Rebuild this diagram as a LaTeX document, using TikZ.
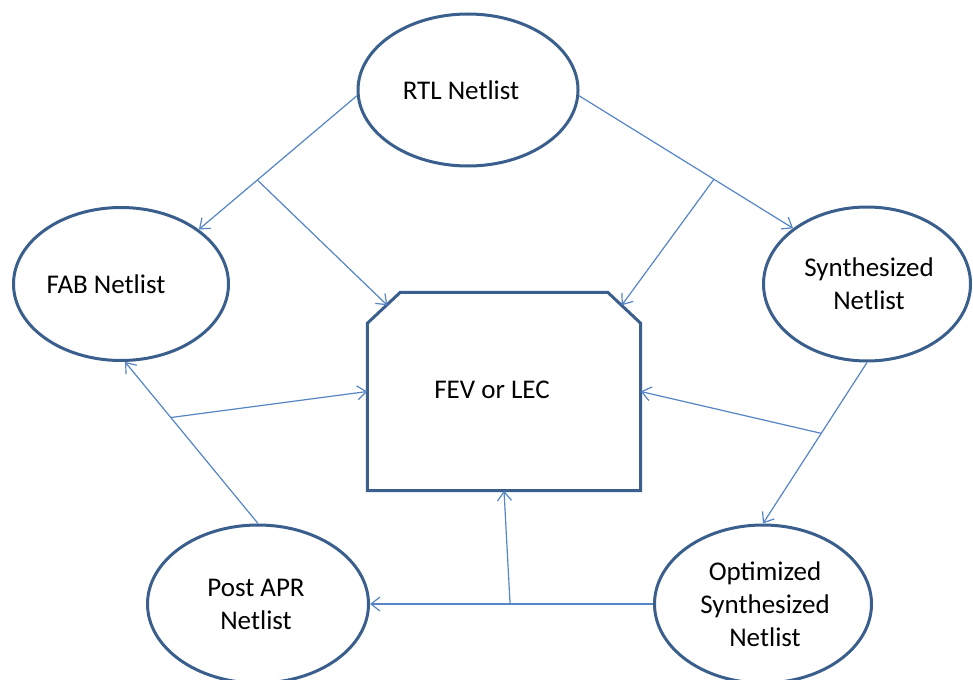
\documentclass[tikz,border=0pt]{standalone}
\usepackage{fontspec}
\setmainfont{Carlito}
\usetikzlibrary{arrows.meta,shapes.geometric}
\definecolor{outline}{HTML}{3A5F8C}
\definecolor{link}{HTML}{5585C4}
\begin{document}
\begin{tikzpicture}[x=1pt,y=-1pt,
  oval/.style={ellipse, draw=outline, line width=3pt, fill=white, inner sep=0pt},
  lbl/.style={font=\fontsize{27}{33}\selectfont, align=center, text=black},
  conn/.style={draw=link, line width=1.2pt,
    -{Straight Barb[length=9pt,width=14pt,line width=1.2pt]}},
]
\useasboundingbox (0,0) rectangle (973,679);

% netlist ovals
\node[oval, minimum width=220pt, minimum height=152pt,
  label={[lbl, xshift=-7pt]center:RTL Netlist}] (rtl) at (468,90) {};
\node[oval, minimum width=215pt, minimum height=153pt,
  label={[lbl, xshift=-15pt]center:FAB Netlist}] (fab) at (121,284) {};
\node[oval, minimum width=207pt, minimum height=154pt,
  label={[lbl, xshift=2pt]center:Synthesized\\Netlist}] (syn) at (867,284) {};
\node[oval, minimum width=217pt, minimum height=158pt,
  label={[lbl, xshift=2pt]center:Optimized\\Synthesized\\Netlist}] (opt) at (763,604) {};
\node[oval, minimum width=221pt, minimum height=158pt,
  label={[lbl, xshift=-2pt]center:Post APR\\Netlist}] (post) at (258,604) {};

% equivalence checker box with chamfered top corners
\node[draw=none, inner sep=0pt, minimum width=273pt, minimum height=198pt] (fev) at (504,391.5) {};
\draw[outline, line width=3pt, line join=miter]
  ([yshift=-31pt]fev.north west) -- ([xshift=33pt]fev.north west)
  -- ([xshift=-33pt]fev.north east) -- ([yshift=-31pt]fev.north east)
  -- (fev.south east) -- (fev.south west) -- cycle;
\node[lbl] (fevtext) at (492,390) {FEV or LEC};

% points on the chamfered corners
\coordinate (fevA) at ([shift={(20pt,-13pt)}]fev.north west);
\coordinate (fevB) at ([shift={(-19pt,-13pt)}]fev.north east);

% flow between netlists, with a branch into the checker from each link
\draw[conn] (rtl.183) -- coordinate[pos=0.63] (m1) (fab.35);
\draw[conn] (m1) -- (fevA);
\draw[conn] (rtl.357) -- coordinate[pos=0.63] (m2) (syn.143);
\draw[conn] (m2) -- (fevB);
\draw[conn] (syn.south) -- coordinate[pos=0.44] (m3) (opt.north);
\draw[conn] (m3) -- (fev.east);
\draw[conn] (opt.west) -- coordinate[pos=0.505] (m4) (post.east);
\draw[conn] (m4) -- (fev.south);
\draw[conn] (post.north) -- coordinate[pos=0.656] (m5) (fab.273);
\draw[conn] (m5) -- (fev.west);
\end{tikzpicture}
\end{document}
